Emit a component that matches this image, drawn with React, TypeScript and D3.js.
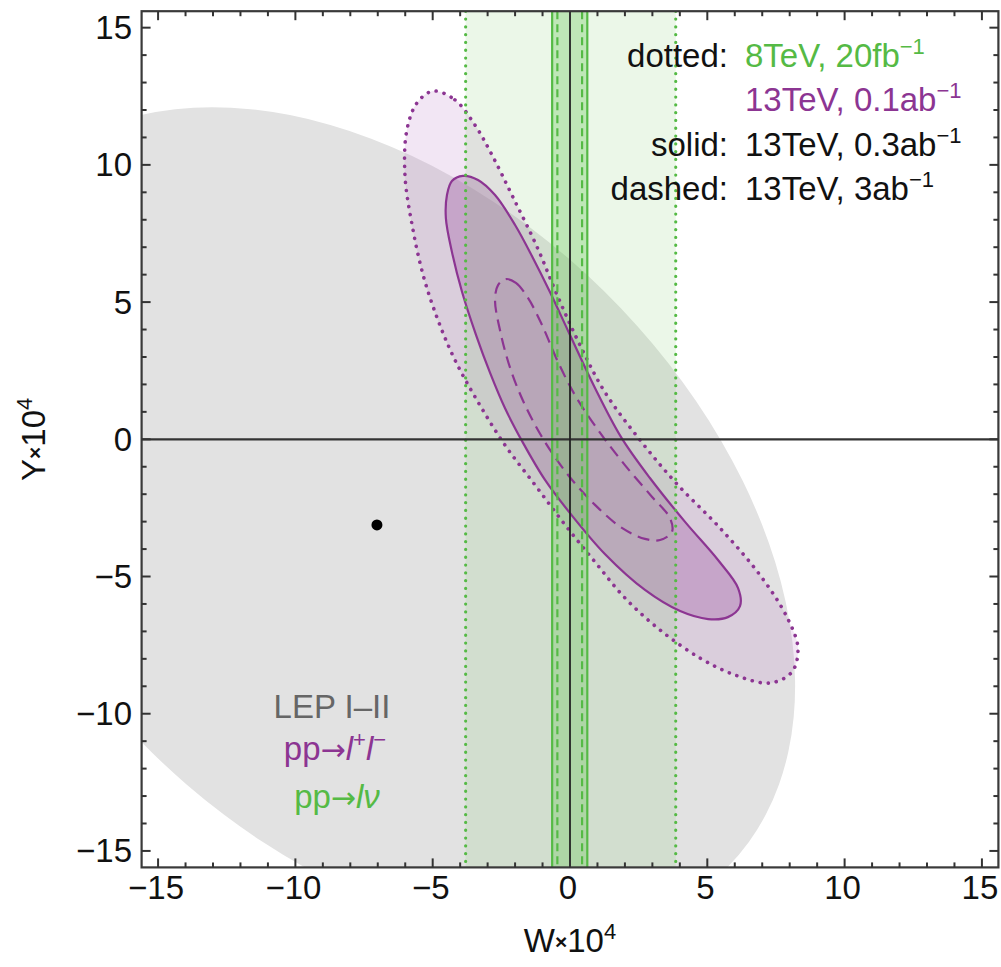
import React from 'react';
import * as d3 from 'd3';

const W = 1001;
const H = 967;
const FONT = '"Liberation Sans", Arial, Helvetica, sans-serif';

// axis domains & ticks
const xDomain: [number, number] = [-15.6, 15.6];
const yDomain: [number, number] = [-15.6, 15.6];
const majorTicks = [-15, -10, -5, 0, 5, 10, 15];
const tickLabels = ['\u221215', '\u221210', '\u22125', '0', '5', '10', '15'];
const minorTicks = [-15, -14, -13, -12, -11, -10, -9, -8, -7, -6, -5, -4, -3, -2, -1, 0, 1, 2, 3, 4, 5, 6, 7, 8, 9, 10, 11, 12, 13, 14, 15];

// LEP I-II region (ellipse: center, semi-axes, orientation in degrees)
const lepCenter: [number, number] = [-7.0, -3.0];
const lepSemiAxes: [number, number] = [17.9, 11.77];
const lepAngle = -44.5;
const bestFit: [number, number] = [-7.03, -3.12];

// pp -> l+ l- contours (W, Y)
const contourDotted: [number, number][] = [
  [-4.99, 12.69], [-4.19, 12.37], [-3.46, 11.45], [-2.84, 10.36], [-2.08, 8.83], [-1.2, 7.01],
  [-0.44, 5.19], [0.36, 3.44], [1.27, 1.72], [2.55, -0.03], [3.86, -1.59], [5.46, -3.23],
  [6.92, -4.95], [7.9, -6.48], [8.3, -7.61], [8.08, -8.48], [7.28, -8.88], [6.01, -8.59],
  [4.73, -7.97], [3.28, -6.95], [2.0, -5.78], [0.91, -4.47], [-0.18, -3.12], [-1.27, -1.67],
  [-2.37, -0.21], [-3.35, 1.36], [-4.19, 2.89], [-4.81, 4.35], [-5.35, 5.99], [-5.75, 7.81],
  [-6.01, 9.63], [-5.94, 11.27], [-5.57, 12.26],
];
const contourSolid: [number, number][] = [
  [-3.9, 9.6], [-3.35, 9.45], [-2.73, 8.9], [-2.0, 7.81], [-1.35, 6.61], [-0.73, 5.37],
  [0.0, 3.8], [0.91, 1.87], [1.86, 0.08], [2.91, -1.41], [4.19, -3.01], [5.39, -4.4],
  [6.12, -5.42], [6.19, -6.08], [5.75, -6.48], [5.03, -6.55], [4.01, -6.26], [2.73, -5.49],
  [1.27, -4.18], [0.0, -2.69], [-0.91, -1.48], [-1.71, -0.13], [-2.37, 1.14], [-2.91, 2.42],
  [-3.42, 3.8], [-3.93, 5.37], [-4.3, 6.83], [-4.52, 8.06], [-4.48, 8.9], [-4.3, 9.41],
];
const contourDashed: [number, number][] = [
  [-2.33, 5.84], [-1.97, 5.7], [-1.53, 5.15], [-1.02, 4.17], [-0.47, 2.89], [0.18, 1.61],
  [1.02, 0.34], [2.0, -0.94], [2.99, -2.1], [3.64, -2.87], [3.71, -3.38], [3.28, -3.67],
  [2.73, -3.63], [1.89, -3.23], [0.91, -2.39], [-0.07, -1.3], [-0.91, -0.1], [-1.64, 1.25],
  [-2.18, 2.6], [-2.55, 3.98], [-2.73, 5.08], [-2.62, 5.62],
];

// pp -> l nu bands (W limits)
const bandDotted: [number, number] = [-3.8, 3.85];
const bandSolid: [number, number] = [-0.65, 0.63];
const bandDashed: [number, number] = [-0.46, 0.44];

const legendLabels = ['dotted:', '', 'solid:', 'dashed:'];
const legendValues = ['8TeV, 20fb', '13TeV, 0.1ab', '13TeV, 0.3ab', '13TeV, 3ab'];
const legendColorKeys = ['green', 'purple', 'black', 'black'];

const GREEN = '#55ba45';
const PURPLE = '#8c3592';
const colorOf: Record<string, string> = { green: GREEN, purple: PURPLE, black: '#111' };

export default function App() {
  const x = d3.scaleLinear().domain(xDomain).range([141.6, 998.4]);
  const y = d3.scaleLinear().domain(yDomain).range([867.4, 11.2]);
  const [x0, x1] = x.range();
  const [y0, y1] = y.range(); // y0 bottom, y1 top

  const line = d3
    .line<[number, number]>()
    .x((d) => x(d[0]))
    .y((d) => y(d[1]))
    .curve(d3.curveCatmullRomClosed.alpha(0.5));

  const fs = 33;
  const supFs = 22;

  const majorLen = 9;
  const minorLen = 5;
  const ARROW_FONT = '"DejaVu Sans", sans-serif';

  return (
    <svg
      width={W}
      height={H}
      viewBox={`0 0 ${W} ${H}`}
      style={{ position: 'absolute', left: 0, top: 0, background: '#fff' }}
      fontFamily={FONT}
    >
      <defs>
        <clipPath id="plotClip">
          <rect x={x0} y={y1} width={x1 - x0} height={y0 - y1} />
        </clipPath>
      </defs>
      <rect x={0} y={0} width={W} height={H} fill="#fff" />
      <g clipPath="url(#plotClip)">
        {/* LEP region */}
        <ellipse
          cx={x(lepCenter[0])}
          cy={y(lepCenter[1])}
          rx={x(lepSemiAxes[0]) - x(0)}
          ry={y(0) - y(lepSemiAxes[1])}
          transform={`rotate(${-lepAngle}, ${x(lepCenter[0])}, ${y(lepCenter[1])})`}
          fill="#e2e2e2"
        />
        {/* purple fills */}
        <path d={line(contourDotted) || ''} fill="rgb(190,130,200)" fillOpacity={0.2} />
        <path d={line(contourSolid) || ''} fill="rgb(160,90,165)" fillOpacity={0.35} />
        <path d={line(contourDashed) || ''} fill="rgb(160,90,165)" fillOpacity={0.06} />
        {/* green band fills */}
        <rect x={x(bandDotted[0])} y={y1} width={x(bandDotted[1]) - x(bandDotted[0])} height={y0 - y1} fill="rgb(120,200,100)" fillOpacity={0.15} />
        <rect x={x(bandSolid[0])} y={y1} width={x(bandSolid[1]) - x(bandSolid[0])} height={y0 - y1} fill="rgb(100,200,80)" fillOpacity={0.32} />
        {/* purple lines */}
        <path d={line(contourDotted) || ''} fill="none" stroke={PURPLE} strokeWidth={3.6} strokeDasharray="0.1 8" strokeLinecap="round" />
        <path d={line(contourSolid) || ''} fill="none" stroke={PURPLE} strokeWidth={2.2} />
        <path d={line(contourDashed) || ''} fill="none" stroke={PURPLE} strokeWidth={2.2} strokeDasharray="12 7" />
        {/* green lines */}
        {bandDotted.map((v, i) => (
          <line key={'gd' + i} x1={x(v)} x2={x(v)} y1={y1} y2={y0} stroke={GREEN} strokeWidth={3.2} strokeDasharray="0.1 7.7" strokeLinecap="round" />
        ))}
        {bandSolid.map((v, i) => (
          <line key={'gs' + i} x1={x(v)} x2={x(v)} y1={y1} y2={y0} stroke={GREEN} strokeWidth={2.2} />
        ))}
        {bandDashed.map((v, i) => (
          <line key={'gh' + i} x1={x(v)} x2={x(v)} y1={y1} y2={y0} stroke={GREEN} strokeWidth={2.2} strokeDasharray="8 5" />
        ))}
        {/* zero lines */}
        <line x1={x0} x2={x1} y1={y(0)} y2={y(0)} stroke="#333" strokeWidth={2.2} />
        <line x1={x(0)} x2={x(0)} y1={y1} y2={y0} stroke="#222" strokeWidth={1.8} />
        {/* best fit */}
        <circle cx={x(bestFit[0])} cy={y(bestFit[1])} r={5.5} fill="#000" />
      </g>

      {/* frame */}
      <rect x={x0} y={y1} width={x1 - x0} height={y0 - y1} fill="none" stroke="#3a3a3a" strokeWidth={2.2} />
      {/* ticks */}
      {minorTicks.map((t) => {
        const len = majorTicks.includes(t) ? majorLen : minorLen;
        return (
          <g key={'t' + t} stroke="#333" strokeWidth={2}>
            <line x1={x(t)} x2={x(t)} y1={y0} y2={y0 - len} />
            <line x1={x(t)} x2={x(t)} y1={y1} y2={y1 + len} />
            <line x1={x0} x2={x0 + len} y1={y(t)} y2={y(t)} />
            <line x1={x1} x2={x1 - len} y1={y(t)} y2={y(t)} />
          </g>
        );
      })}
      {/* tick labels */}
      {majorTicks.map((t, i) => (
        <text key={'xl' + t} x={x(t) - 2} y={899} fontSize={fs} textAnchor="middle" fill="#111">
          {tickLabels[i]}
        </text>
      ))}
      {majorTicks.map((t, i) => (
        <text key={'yl' + t} x={132} y={y(t) + 11.5} fontSize={fs} textAnchor="end" fill="#111">
          {tickLabels[i]}
        </text>
      ))}
      {/* axis titles */}
      <text x={x(0)} y={952} fontSize={fs} textAnchor="middle" fill="#111">
        W<tspan fontSize={21} fontWeight="bold" dy={-3}>{'\u00d7'}</tspan>
        <tspan dy={3}>10</tspan>
        <tspan fontSize={supFs} dy={-13}>4</tspan>
      </text>
      <text transform={`translate(45, ${y(0)}) rotate(-90)`} fontSize={fs} textAnchor="middle" fill="#111">
        Y<tspan fontSize={21} fontWeight="bold" dy={-3}>{'\u00d7'}</tspan>
        <tspan dy={3}>10</tspan>
        <tspan fontSize={supFs} dy={-13}>4</tspan>
      </text>

      {/* legend */}
      {legendValues.map((v, i) => {
        const base = [67, 111, 156, 200][i];
        return (
          <g key={'lg' + i}>
            {legendLabels[i] && (
              <text x={728} y={base} fontSize={fs} textAnchor="end" fill="#111">
                {legendLabels[i]}
              </text>
            )}
            <text x={745} y={base} fontSize={fs} fill={colorOf[legendColorKeys[i]]}>
              {v}
              <tspan fontSize={supFs} dy={-13}>{'\u22121'}</tspan>
            </text>
          </g>
        );
      })}

      {/* region labels */}
      <text x={332} y={718} fontSize={fs} textAnchor="middle" fill="#666">
        LEP I{'\u2013'}II
      </text>
      <text x={335} y={760} fontSize={fs} textAnchor="middle" fill={PURPLE}>
        pp<tspan fontFamily={ARROW_FONT} fontSize={30}>{'\u2192'}</tspan>
        <tspan fontStyle="italic">l</tspan>
        <tspan fontSize={supFs} dy={-13}>+</tspan>
        <tspan fontStyle="italic" dy={13}>l</tspan>
        <tspan fontSize={supFs} dy={-13}>{'\u2212'}</tspan>
      </text>
      <text x={337} y={808} fontSize={fs} textAnchor="middle" fill={GREEN}>
        pp<tspan fontFamily={ARROW_FONT} fontSize={30}>{'\u2192'}</tspan>
        <tspan fontStyle="italic">l</tspan>
        <tspan fontStyle="italic">{'\u03bd'}</tspan>
      </text>
    </svg>
  );
}
